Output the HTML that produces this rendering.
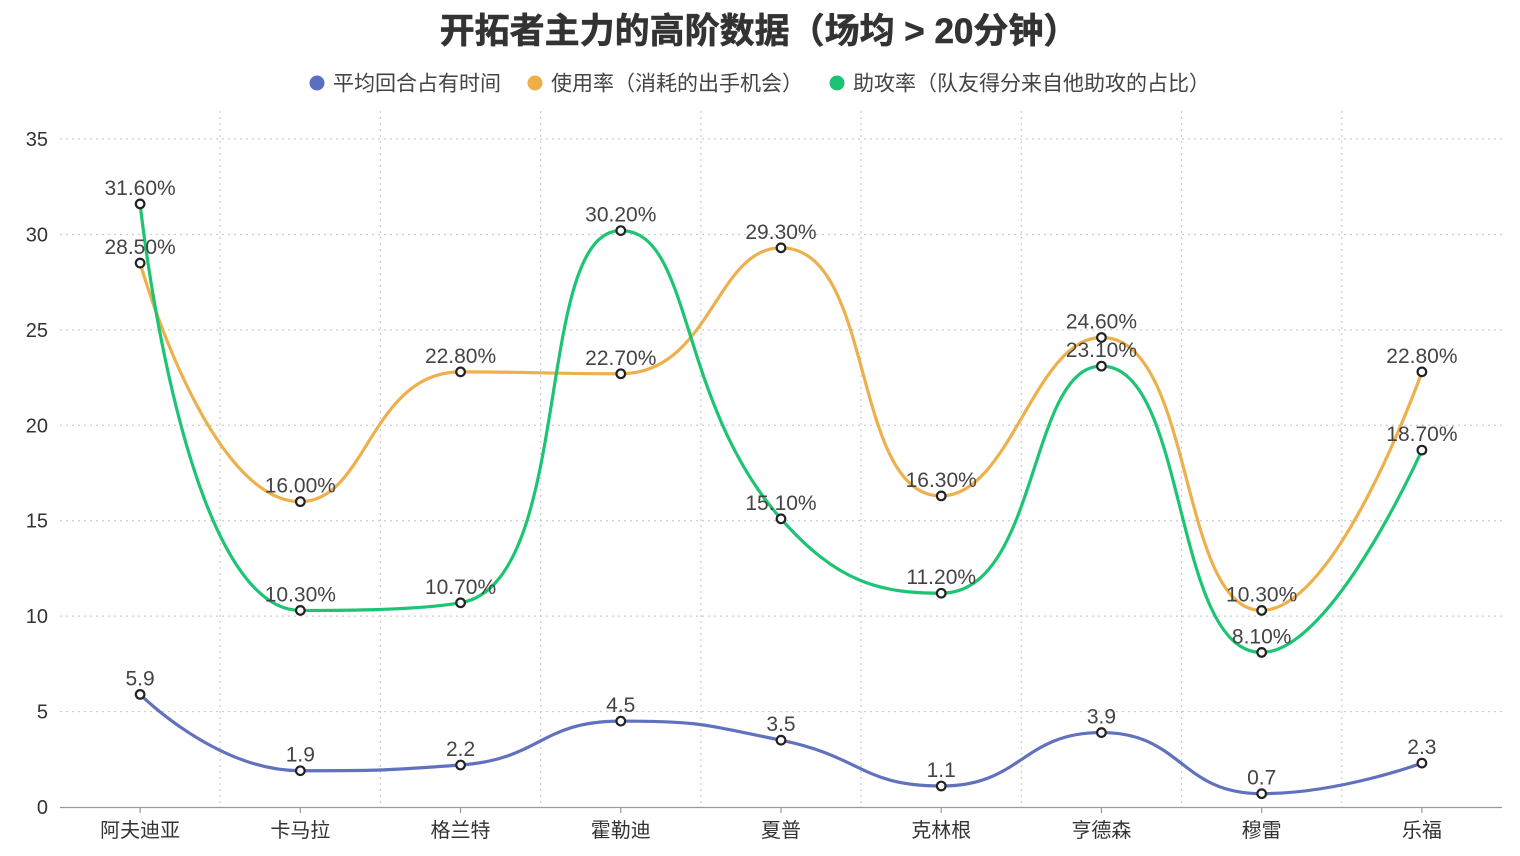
<!DOCTYPE html>
<html><head><meta charset="utf-8">
<style>
html,body{margin:0;padding:0;background:#fff;}
svg{display:block;}
text{font-family:"Liberation Sans","Noto Sans CJK SC",sans-serif;}
</style></head>
<body>
<svg id="c" width="1520" height="856" xmlns="http://www.w3.org/2000/svg">
<rect width="1520" height="856" fill="#fff"/>
<text x="759" y="43" text-anchor="middle" font-size="35" font-weight="bold" fill="#333" stroke="#333" stroke-width="0.6">开拓者主力的高阶数据（场均 &gt; 20分钟）</text>
<circle cx="317" cy="83" r="7.5" fill="#5B6FC2"/>
<text x="333" y="90.5" font-size="21" fill="#444">平均回合占有时间</text>
<circle cx="535" cy="83" r="7.5" fill="#EEAF47"/>
<text x="551" y="90.5" font-size="21" fill="#444">使用率（消耗的出手机会）</text>
<circle cx="837" cy="83" r="7.5" fill="#1DC274"/>
<text x="853" y="90.5" font-size="21" fill="#444">助攻率（队友得分来自他助攻的占比）</text>
<g id="grid"></g>
<g id="series"></g>
</svg>
<script>
(function(){
var NS="http://www.w3.org/2000/svg";
var svg=document.getElementById('c');
var grid=document.getElementById('grid');
var ser=document.getElementById('series');
function el(tag,attrs,parent,txt){var e=document.createElementNS(NS,tag);for(var k in attrs)e.setAttribute(k,attrs[k]);if(txt!=null)e.textContent=txt;(parent||svg).appendChild(e);return e;}
var x0=60,x1=1502,y0=807,yTop=139;
var bw=(x1-x0)/9;
function X(i){return x0+(i+0.5)*bw;}
function Y(v){return y0-v/35*(y0-yTop);}
for(var v=5;v<=35;v+=5){
  el('line',{x1:x0,y1:Y(v),x2:x1,y2:Y(v),stroke:'#ccc','stroke-width':1.2,'stroke-dasharray':'2 4'},grid);
}
for(var v=0;v<=35;v+=5){
  el('text',{x:48,y:Y(v)+7,'text-anchor':'end','font-size':20,fill:'#333'},grid,String(v));
}
for(var i=1;i<9;i++){
  var xx=x0+i*bw;
  el('line',{x1:xx,y1:yTop-28,x2:xx,y2:y0,stroke:'#ccc','stroke-width':1.2,'stroke-dasharray':'2 4'},grid);
}
el('line',{x1:x0,y1:y0+0.5,x2:x1,y2:y0+0.5,stroke:'#999','stroke-width':1.2},grid);
var cats=['阿夫迪亚','卡马拉','格兰特','霍勒迪','夏普','克林根','亨德森','穆雷','乐福'];
for(var i=0;i<9;i++){
  el('line',{x1:X(i),y1:y0,x2:X(i),y2:y0+6,stroke:'#999','stroke-width':1.2},grid);
  el('text',{x:X(i),y:837,'text-anchor':'middle','font-size':20,fill:'#333'},grid,cats[i]);
}
function smoothPath(pts,smooth){
  var d='';var prevX,prevY,cpx0,cpy0,cpx1,cpy1,n=pts.length;
  for(var k=0;k<n;k++){
    var x=pts[k][0],y=pts[k][1];
    if(k===0){d+='M'+x+' '+y;cpx0=x;cpy0=y;}
    else{
      var nextCpx0,nextCpy0;
      if(k===n-1){cpx1=x;cpy1=y;}
      else{
        var nextX=pts[k+1][0],nextY=pts[k+1][1];
        var vx=nextX-prevX,vy=nextY-prevY;
        var dx0=x-prevX,dx1=nextX-x,dy0=y-prevY,dy1=nextY-y;
        var lp=Math.sqrt(dx0*dx0+dy0*dy0),ln=Math.sqrt(dx1*dx1+dy1*dy1);
        var r=ln/(ln+lp);
        nextCpx0=x+vx*smooth*r;nextCpy0=y+vy*smooth*r;
        nextCpx0=Math.min(nextCpx0,Math.max(nextX,x));
        nextCpy0=Math.min(nextCpy0,Math.max(nextY,y));
        nextCpx0=Math.max(nextCpx0,Math.min(nextX,x));
        nextCpy0=Math.max(nextCpy0,Math.min(nextY,y));
        vx=nextCpx0-x;vy=nextCpy0-y;
        cpx1=x-vx*lp/ln;cpy1=y-vy*lp/ln;
        cpx1=Math.min(cpx1,Math.max(prevX,x));
        cpy1=Math.min(cpy1,Math.max(prevY,y));
        cpx1=Math.max(cpx1,Math.min(prevX,x));
        cpy1=Math.max(cpy1,Math.min(prevY,y));
        vx=x-cpx1;vy=y-cpy1;
        nextCpx0=x+vx*ln/lp;nextCpy0=y+vy*ln/lp;
      }
      d+=' C'+cpx0.toFixed(2)+' '+cpy0.toFixed(2)+' '+cpx1.toFixed(2)+' '+cpy1.toFixed(2)+' '+x.toFixed(2)+' '+y.toFixed(2);
      cpx0=nextCpx0;cpy0=nextCpy0;
    }
    prevX=x;prevY=y;
  }
  return d;
}
var series=[
 {c:'#6072BD',d:[5.9,1.9,2.2,4.5,3.5,1.1,3.9,0.7,2.3],f:function(v){return String(v);}},
 {c:'#EDB04D',d:[28.5,16.0,22.8,22.7,29.3,16.3,24.6,10.3,22.8],f:function(v){return v.toFixed(2)+'%';}},
 {c:'#1DC474',d:[31.6,10.3,10.7,30.2,15.1,11.2,23.1,8.1,18.7],f:function(v){return v.toFixed(2)+'%';}}
];
var labels=el('g',{},ser);
series.forEach(function(s){
  var pts=s.d.map(function(v,i){return [X(i),Y(v)];});
  el('path',{d:smoothPath(pts,0.5),fill:'none',stroke:s.c,'stroke-width':3.2,'stroke-linejoin':'round'},ser);
});
series.forEach(function(s){
  s.d.forEach(function(v,i){
    el('circle',{cx:X(i),cy:Y(v),r:4.3,fill:'#fff',stroke:'#222','stroke-width':2.2},ser);
  });
});
series.forEach(function(s){
  s.d.forEach(function(v,i){
    el('text',{x:X(i),y:Y(v)-9,'text-anchor':'middle','font-size':21,fill:'#444'},labels,s.f(v));
  });
});
ser.appendChild(labels);
})();
</script>
</body></html>
